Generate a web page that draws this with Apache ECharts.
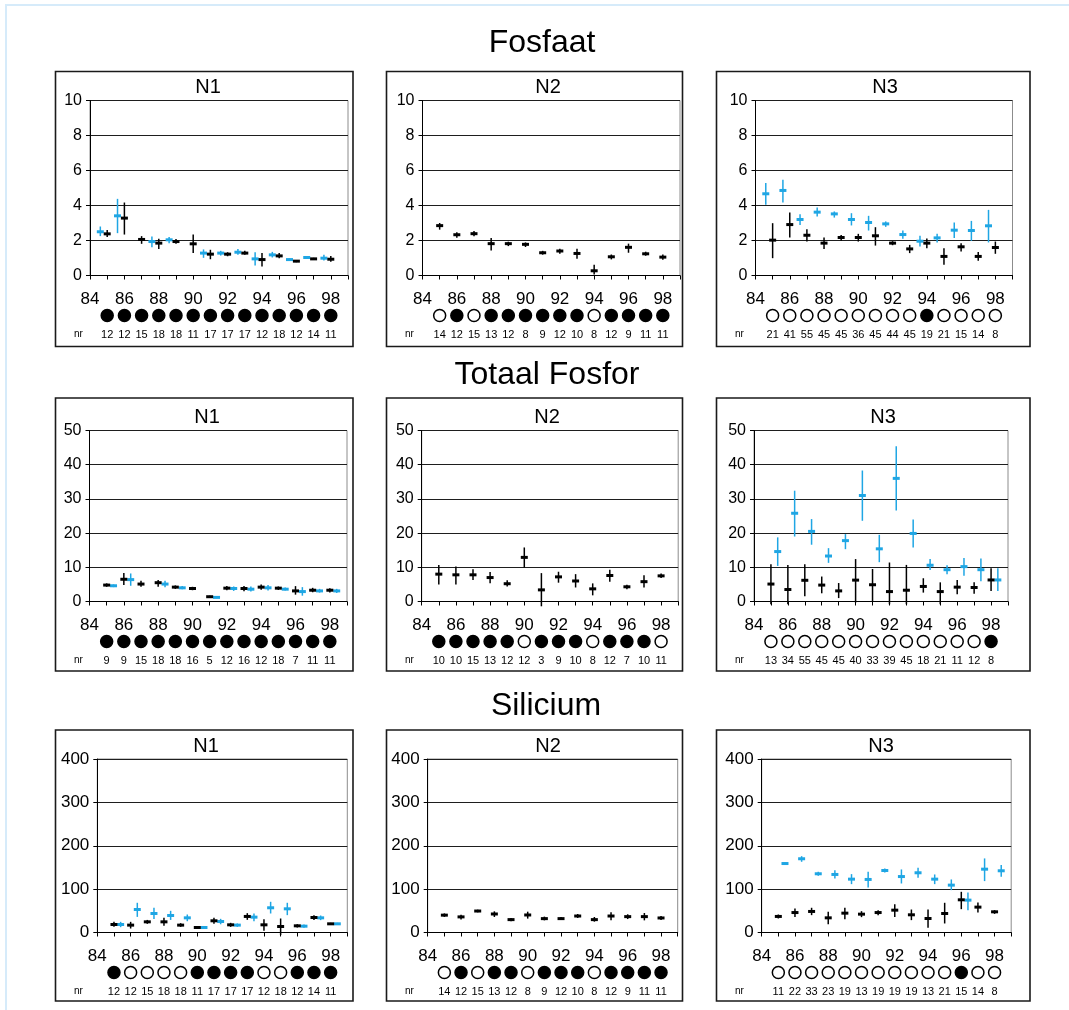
<!DOCTYPE html>
<html>
<head>
<meta charset="utf-8">
<script src="https://cdn.jsdelivr.net/npm/echarts@6/dist/echarts.min.js"></script>
<style>
  html, body { margin: 0; padding: 0; background: #fff; }
  #chart { width: 1069px; height: 1010px; }
</style>
</head>
<body>
<div id="chart"></div>
<script>
// Years shown in every panel
const years = [85, 86, 87, 88, 89, 90, 91, 92, 93, 94, 95, 96, 97, 98];
const xTickLabels = [84, 86, 88, 90, 92, 94, 96, 98];

// Each entry per year: [mean, low, high]; null = no measurement

// ---- Fosfaat ----
const fosfaatN1Black = [[2.38,2.2,2.6],[3.28,2.34,4.17],[2.06,1.81,2.25],[1.85,1.52,2.1],[1.94,1.81,2.08],[1.81,1.28,2.34],[1.22,0.93,1.47],[1.22,1.1,1.33],[1.28,1.18,1.41],[0.91,0.51,1.28],[1.12,0.99,1.28],[0.82,0.76,0.88],[0.95,0.89,1.01],[0.93,0.78,1.12]];
const fosfaatN1Blue = [[2.5,2.25,2.8],[3.41,2.42,4.38],null,[1.94,1.62,2.23],[2.04,1.85,2.2],null,[1.28,1.01,1.49],[1.28,1.14,1.41],[1.33,1.18,1.52],[0.95,0.57,1.33],[1.18,1.03,1.35],[0.91,0.84,0.97],[1.03,0.95,1.1],[0.99,0.86,1.18]];
const fosfaatN1Filled = [1,1,1,1,1,1,1,1,1,1,1,1,1,1];
const fosfaatN1Nr = [12,12,15,18,18,11,17,17,17,12,18,12,14,11];

const fosfaatN2Black = [[2.85,2.62,3.0],[2.33,2.16,2.47],[2.39,2.24,2.54],[1.82,1.43,2.14],[1.82,1.68,1.93],[1.78,1.63,1.89],[1.3,1.19,1.41],[1.4,1.24,1.53],[1.26,0.96,1.53],[0.27,0.06,0.61],[1.07,0.92,1.2],[1.61,1.3,1.82],[1.24,1.13,1.36],[1.05,0.9,1.2]];
const fosfaatN2Blue = [];
const fosfaatN2Filled = [0,1,0,1,1,1,1,1,1,0,1,1,1,1];
const fosfaatN2Nr = [14,12,15,13,12,8,9,12,10,8,12,9,11,11];

const fosfaatN3Black = [[2.02,0.99,2.99],[2.91,2.17,3.6],[2.3,1.94,2.65],[1.85,1.52,2.17],[2.17,1.98,2.32],[2.17,1.94,2.38],[2.27,1.71,2.76],[1.85,1.73,1.96],[1.52,1.28,1.75],[1.85,1.56,2.11],[1.09,0.61,1.56],[1.64,1.37,1.85],[1.09,0.84,1.35],[1.6,1.24,1.94]];
const fosfaatN3Blue = [[4.67,4.04,5.28],[4.86,4.17,5.47],[3.2,2.88,3.5],[3.62,3.37,3.89],[3.52,3.31,3.66],[3.2,2.86,3.56],[3.03,2.57,3.41],[2.95,2.78,3.09],[2.34,2.1,2.57],[1.96,1.66,2.27],[2.15,1.89,2.38],[2.59,2.15,3.03],[2.57,1.98,3.12],[2.84,1.89,3.75]];
const fosfaatN3Filled = [0,0,0,0,0,0,0,0,0,1,0,0,0,0];
const fosfaatN3Nr = [21,41,55,45,45,36,45,44,45,19,21,15,14,8];

// ---- Totaal Fosfor ----
const totaalN1Black = [[4.8,4.3,5.3],[6.5,4.8,8.3],[5.1,4.3,6.1],[5.5,4.3,6.3],[4.2,3.7,4.7],[3.8,3.3,4.3],[1.4,1.1,1.7],[3.9,3.3,4.5],[3.8,3.0,4.5],[4.2,3.4,5.0],[3.9,3.4,4.4],[3.1,2.0,4.5],[3.3,2.7,4.0],[3.3,2.6,3.9]];
const totaalN1Blue = [[4.6,4.2,5.0],[6.4,4.6,8.2],null,[5.1,4.2,6.1],[4.0,3.6,4.5],null,[1.2,1.0,1.5],[3.8,3.1,4.4],[3.6,2.9,4.4],[4.0,3.2,4.8],[3.6,3.2,4.1],[2.9,1.7,4.2],[3.1,2.6,3.7],[3.1,2.5,3.7]];
const totaalN1Filled = [1,1,1,1,1,1,1,1,1,1,1,1,1,1];
const totaalN1Nr = [9,9,15,18,18,16,5,12,16,12,18,7,11,11];

const totaalN2Black = [[8.0,5.0,10.7],[7.8,5.0,10.2],[7.8,6.3,9.4],[7.0,5.3,8.6],[5.2,4.4,6.2],[12.9,9.9,15.8],[3.4,-1.4,8.3],[7.2,5.5,8.7],[6.0,4.1,8.0],[3.7,1.8,5.3],[7.6,5.8,9.3],[4.3,3.6,4.9],[5.8,4.1,7.7],[7.5,6.9,8.2]];
const totaalN2Blue = [];
const totaalN2Filled = [1,1,1,1,1,0,1,1,1,0,1,1,1,0];
const totaalN2Nr = [10,10,15,13,12,12,3,9,10,8,12,7,10,11];

const totaalN3Black = [[5.1,-0.8,10.9],[3.5,-0.8,10.7],[6.2,1.5,10.9],[4.8,2.4,7.3],[3.1,1.0,5.4],[6.25,-0.3,12.4],[4.9,0,9.5],[2.9,-0.8,11.4],[3.3,-0.8,10.7],[4.4,2.6,6.8],[2.9,-0.8,5.6],[4.2,2.1,6.3],[4.1,2.3,5.6],[6.3,3.1,9.7]];
const totaalN3Blue = [[14.6,10.4,18.75],[25.8,19.0,32.4],[20.5,16.6,24.1],[13.3,11.3,15.6],[17.8,15.3,19.7],[31.0,23.6,38.3],[15.4,11.5,19.5],[36.0,26.6,45.4],[19.9,15.8,24.0],[10.6,9.2,12.4],[9.3,8.0,10.6],[10.2,7.5,12.7],[9.3,5.9,12.6],[6.3,3.1,9.7]];
const totaalN3Filled = [0,0,0,0,0,0,0,0,0,0,0,0,0,1];
const totaalN3Nr = [13,34,55,45,45,40,33,39,45,18,21,11,12,8];

// ---- Silicium ----
const siliciumN1Black = [[18.5,13,24.6],[17,9.2,24.6],[24.6,20,29],[24.6,15.4,33.8],[17,13,21.5],[11.5,9.2,13.8],[27,20,33.8],[17.7,13,22.3],[37,29.2,44.6],[17.7,3.8,30.8],[13.8,-6,32.3],[15.4,11.5,19.2],[34.6,29,40],[20,17.7,22.3]];
const siliciumN1Blue = [[18.5,12.3,24.6],[53,36,68.5],[43.8,31,57],[39.2,29,50],[33.8,26,41.5],[11.5,9.2,13.8],[25.4,19,31.5],[17,13,20.8],[35.4,26,43.8],[57,43.8,70.8],[54.6,40,68.5],[14.6,10.8,18.5],[33.8,28.5,39.2],[20,17.7,22.3]];
const siliciumN1Filled = [1,0,0,0,0,1,1,1,1,0,0,1,1,1];
const siliciumN1Nr = [12,12,15,18,18,11,17,17,17,12,18,12,14,11];

const siliciumN2Black = [[40,36,44],[36,30,41],[49.5,46.5,52.6],[42.7,35.8,48.8],[29.7,26,33.5],[40.4,32,48],[32,28,36.6],[32,29,35.8],[38,33.5,42.7],[29.7,25,35.8],[38,28,46.5],[36.6,31,42],[36.6,28,45],[33.5,29,38]];
const siliciumN2Blue = [];
const siliciumN2Filled = [0,1,0,1,1,0,1,1,1,0,1,1,1,1];
const siliciumN2Nr = [14,12,15,13,12,8,9,12,10,8,12,9,11,11];

const siliciumN3Black = [[37,32.3,41.5],[46,36,55.4],[48.5,40,57],[33.8,19,47.7],[44.6,30.8,57],[42.3,35.4,49.2],[46,40,51.5],[51.5,36,65.4],[40.8,28.5,53],[32.3,10.8,53],[43.8,20.8,68.5],[75.4,53.8,93.8],[58.5,46,69],[47.7,43,51.5]];
const siliciumN3Blue = [[159,157,161.5],[170,163,176],[135.4,130.8,140],[133.8,124.6,143.8],[123,111.5,134.6],[122.3,103.8,140],[143,138.5,147.7],[129,113,145.4],[137.7,126,149],[123,111.5,133.8],[109.2,97.7,122.3],[74.6,51.5,92.3],[146,118.5,170.8],[142.3,128.5,155.4]];
const siliciumN3Filled = [0,0,0,0,0,0,0,0,0,0,0,1,0,0];
const siliciumN3Nr = [11,22,33,23,19,13,19,19,19,13,21,15,14,8];

const sectionTitles = ['Fosfaat', 'Totaal Fosfor', 'Silicium'];
const panelTitles = ['N1', 'N2', 'N3'];
const sectionMax = [10, 50, 400];
const sectionStep = [2, 10, 100];

// ---------------------------------------------------------------
const FONT = '"Liberation Sans", Arial, sans-serif';
const BLUE = '#1fa6e4';
const BLACK = '#000';

const sections = [
  { black: [fosfaatN1Black, fosfaatN2Black, fosfaatN3Black], blue: [fosfaatN1Blue, fosfaatN2Blue, fosfaatN3Blue],
    filled: [fosfaatN1Filled, fosfaatN2Filled, fosfaatN3Filled], nr: [fosfaatN1Nr, fosfaatN2Nr, fosfaatN3Nr], blueShift: -0.4 },
  { black: [totaalN1Black, totaalN2Black, totaalN3Black], blue: [totaalN1Blue, totaalN2Blue, totaalN3Blue],
    filled: [totaalN1Filled, totaalN2Filled, totaalN3Filled], nr: [totaalN1Nr, totaalN2Nr, totaalN3Nr], blueShift: 0.4 },
  { black: [siliciumN1Black, siliciumN2Black, siliciumN3Black], blue: [siliciumN1Blue, siliciumN2Blue, siliciumN3Blue],
    filled: [siliciumN1Filled, siliciumN2Filled, siliciumN3Filled], nr: [siliciumN1Nr, siliciumN2Nr, siliciumN3Nr], blueShift: 0.4 }
];

// Layout: plot areas [left, top, width, height] per row / column
const plotRects = [
  [[90, 100.5, 258, 175], [422.5, 100.5, 257.5, 175], [755.5, 100.5, 257, 175]],
  [[89.5, 430.5, 257.5, 171], [421.7, 430.5, 256.5, 171], [754, 430.5, 254, 171]],
  [[97.3, 759, 250, 173.5], [427.7, 759, 250, 173.5], [761.7, 759, 249.5, 173.5]]
];
const boxRects = [
  [[55.5, 71.5, 297.5, 275], [386.5, 71.5, 296, 275], [716.5, 71.5, 313.5, 275]],
  [[55.5, 398, 297.5, 273], [386.5, 398, 296, 273], [716.5, 398, 313.5, 273]],
  [[55.5, 730, 297.5, 271], [386.5, 730, 296, 271], [716.5, 730, 313.5, 271]]
];
const panelTitlePos = [
  [[208, 87], [548, 87], [885, 87]],
  [[207, 417], [547, 417], [883, 417]],
  [[206, 746], [548, 746], [881, 746]]
];
const sectionTitlePos = [[542, 43], [547, 375], [546, 706]];
const yLabelSize = [16, 16, 17];

function markRenderer(color) {
  return function (params, api) {
    const x = api.value(0);
    const pm = api.coord([x, api.value(1)]);
    const pl = api.coord([x, api.value(2)]);
    const ph = api.coord([x, api.value(3)]);
    return {
      type: 'group',
      children: [
        { type: 'line', shape: { x1: pm[0], y1: pl[1], x2: pm[0], y2: ph[1] },
          style: { stroke: color, lineWidth: 1.5 } },
        { type: 'rect', shape: { x: pm[0] - 3.5, y: pm[1] - 1.5, width: 7, height: 3 },
          style: { fill: color } }
      ]
    };
  };
}

function countRenderer(params, api) {
  const p = api.coord([api.value(0), 0]);
  const filled = api.value(1) === 1;
  return {
    type: 'group',
    children: [
      { type: 'circle', shape: { cx: p[0], cy: p[1] + 40, r: 6 },
        style: { fill: filled ? '#000' : '#fff', stroke: '#000', lineWidth: 1.5 } },
      { type: 'text', x: p[0], y: p[1] + 59,
        style: { text: String(api.value(2)), fill: '#000', font: '11px ' + FONT,
                 align: 'center', verticalAlign: 'middle' } }
    ]
  };
}

const grids = [], xAxes = [], yAxes = [], series = [], graphics = [];

// outer light frame
graphics.push({ type: 'rect', shape: { x: 6, y: 5, width: 1090, height: 1030 },
  style: { fill: 'none', stroke: '#d6ebfa', lineWidth: 2 }, silent: true });

sections.forEach(function (sec, r) {
  graphics.push({ type: 'text', x: sectionTitlePos[r][0], y: sectionTitlePos[r][1],
    style: { text: sectionTitles[r], font: '32px ' + FONT, fill: '#000',
             align: 'center', verticalAlign: 'middle' } });
  for (let c = 0; c < 3; c++) {
    const idx = r * 3 + c;
    const pr = plotRects[r][c];
    const br = boxRects[r][c];
    grids.push({ left: pr[0], top: pr[1], width: pr[2], height: pr[3],
      show: true, borderColor: '#8c8c8c', borderWidth: 1, backgroundColor: 'transparent' });
    xAxes.push({
      type: 'value', gridIndex: idx, min: 84, max: 99, interval: 1,
      axisLine: { show: true, onZero: false, lineStyle: { color: '#000', width: 1 } },
      axisTick: { show: true, length: 4, lineStyle: { color: '#000' } },
      axisLabel: { fontSize: 17, fontFamily: FONT, color: '#000', margin: 15,
        formatter: function (v) { return xTickLabels.indexOf(v) >= 0 ? String(v) : ''; } },
      splitLine: { show: false }
    });
    yAxes.push({
      type: 'value', gridIndex: idx, min: 0, max: sectionMax[r], interval: sectionStep[r],
      axisLine: { show: true, lineStyle: { color: '#000', width: 1 } },
      axisTick: { show: true, length: 4, lineStyle: { color: '#000' } },
      axisLabel: { fontSize: yLabelSize[r], fontFamily: FONT, color: '#000', margin: 8 },
      splitLine: { show: true, lineStyle: { color: '#1e1e1e', width: 1 } }
    });

    const blackData = [], blueData = [], countData = [];
    years.forEach(function (y, i) {
      const b = sec.black[c][i];
      if (b) blackData.push([y, b[0], b[1], b[2]]);
      const u = sec.blue[c][i];
      if (u) blueData.push([y + sec.blueShift, u[0], u[1], u[2]]);
      countData.push([y, sec.filled[c][i], sec.nr[c][i]]);
    });

    series.push({ type: 'custom', xAxisIndex: idx, yAxisIndex: idx, clip: false,
      renderItem: markRenderer(BLUE), data: blueData, z: 3 });
    series.push({ type: 'custom', xAxisIndex: idx, yAxisIndex: idx, clip: false,
      renderItem: markRenderer(BLACK), data: blackData, z: 4 });
    series.push({ type: 'custom', xAxisIndex: idx, yAxisIndex: idx, clip: false,
      renderItem: countRenderer, data: countData, z: 4 });

    // panel frame, title, "nr" row caption
    graphics.push({ type: 'rect', shape: { x: br[0], y: br[1], width: br[2], height: br[3] },
      style: { fill: 'none', stroke: '#1a1a1a', lineWidth: 1.6 }, silent: true });
    graphics.push({ type: 'text', x: panelTitlePos[r][c][0], y: panelTitlePos[r][c][1],
      style: { text: panelTitles[c], font: '20px ' + FONT, fill: '#000',
               align: 'center', verticalAlign: 'middle' } });
    graphics.push({ type: 'text', x: br[0] + 23, y: pr[1] + pr[3] + 59,
      style: { text: 'nr', font: '10px ' + FONT, fill: '#000',
               align: 'center', verticalAlign: 'middle' } });
  }
});

const chart = echarts.init(document.getElementById('chart'), null, { renderer: 'canvas' });
chart.setOption({
  animation: false,
  backgroundColor: '#fff',
  grid: grids,
  xAxis: xAxes,
  yAxis: yAxes,
  series: series,
  graphic: graphics
});
</script>
</body>
</html>
